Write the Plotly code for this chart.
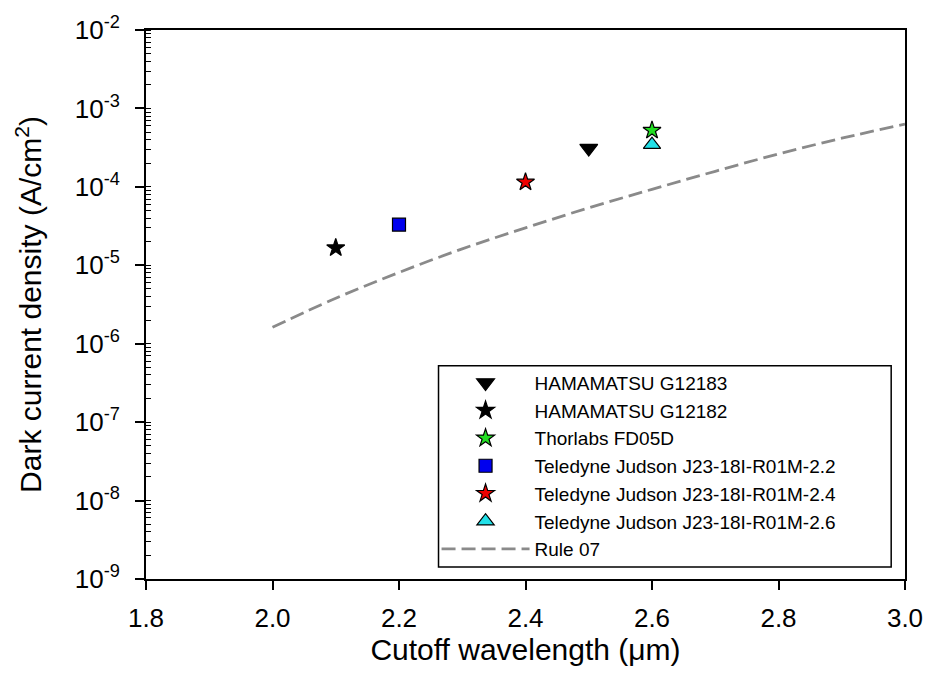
import plotly.graph_objects as go

# ---- data ----
hama183_x = [2.5]
hama183_y = [3.1e-4]
hama182_x = [2.1]
hama182_y = [1.67e-5]
thor_x = [2.6]
thor_y = [5.25e-4]
tj22_x = [2.2]
tj22_y = [3.3e-5]
tj24_x = [2.4]
tj24_y = [1.15e-4]
tj26_x = [2.6]
tj26_y = [3.45e-4]

rule07_x = [2.0, 2.1, 2.2, 2.3, 2.4, 2.5, 2.6, 2.7, 2.8, 2.9, 3.0]
rule07_y = [1.62e-6, 3.8e-6, 8.1e-6, 1.62e-5, 3.0e-5, 5.4e-5, 9.3e-5,
            1.58e-4, 2.63e-4, 4.17e-4, 6.3e-4]

x_tickvals = [1.8, 2.0, 2.2, 2.4, 2.6, 2.8, 3.0]
x_ticktext = ["1.8", "2.0", "2.2", "2.4", "2.6", "2.8", "3.0"]
y_tickvals = [1e-9, 1e-8, 1e-7, 1e-6, 1e-5, 1e-4, 1e-3, 1e-2]
y_ticktext = ["10<sup>-9</sup>", "10<sup>-8</sup>", "10<sup>-7</sup>", "10<sup>-6</sup>",
              "10<sup>-5</sup>", "10<sup>-4</sup>", "10<sup>-3</sup>", "10<sup>-2</sup>"]

FONT = "Arial, Liberation Sans, sans-serif"

fig = go.Figure()

def pts(x, y, name, symbol, fill, size):
    fig.add_trace(go.Scatter(
        x=x, y=y, mode="markers", name=name,
        marker=dict(symbol=symbol, color=fill, size=size,
                    line=dict(color="black", width=1.2)),
    ))

pts(hama183_x, hama183_y, "HAMAMATSU G12183", "triangle-down", "black", 15.5)
pts(hama182_x, hama182_y, "HAMAMATSU G12182", "star", "black", 13.5)
pts(thor_x, thor_y, "Thorlabs FD05D", "star", "#22dd22", 13.5)
pts(tj22_x, tj22_y, "Teledyne Judson J23-18I-R01M-2.2", "square", "#0000ee", 13)
pts(tj24_x, tj24_y, "Teledyne Judson J23-18I-R01M-2.4", "star", "#ee0000", 13.5)
pts(tj26_x, tj26_y, "Teledyne Judson J23-18I-R01M-2.6", "triangle-up", "#22e0e8", 15)

fig.add_trace(go.Scatter(
    x=rule07_x, y=rule07_y, mode="lines", name="Rule 07",
    line=dict(color="#8a8a8a", width=2.8, dash="14px,6px", shape="spline"),
))

# legend frame
fig.add_shape(type="rect", xref="paper", yref="paper",
              x0=0.3854, x1=0.9818, y0=0.0218, y1=0.3884,
              line=dict(color="black", width=1.5), fillcolor="white", layer="above")

fig.update_layout(
    width=935, height=691,
    margin=dict(l=146, r=21, t=28, b=112),
    paper_bgcolor="white", plot_bgcolor="white",
    font=dict(family=FONT, color="black"),
    showlegend=True,
    legend=dict(
        x=0.3828, y=0.392, xanchor="left", yanchor="top",
        bgcolor="rgba(0,0,0,0)", borderwidth=0,
        font=dict(family=FONT, size=19, color="black"),
        itemwidth=88,
    ),
    xaxis=dict(
        range=[1.8, 3.0], tickmode="array", tickvals=x_tickvals, ticktext=x_ticktext,
        ticks="outside", ticklen=9, tickwidth=1.5, tickcolor="black",
        showline=True, linecolor="black", linewidth=2, mirror=True,
        showgrid=False, zeroline=False,
        tickfont=dict(family=FONT, size=26),
        ticklabelstandoff=6,
        title=dict(text="Cutoff wavelength (\u03bcm)", font=dict(family=FONT, size=30), standoff=1),
    ),
    yaxis=dict(
        type="log", range=[-9, -2], tickmode="array", tickvals=y_tickvals, ticktext=y_ticktext,
        ticks="outside", ticklen=9, tickwidth=1.5, tickcolor="black",
        minor=dict(ticks="inside", ticklen=5, tickwidth=1, tickcolor="black", dtick="D1", showgrid=False),
        showline=True, linecolor="black", linewidth=2, mirror=True,
        showgrid=False, zeroline=False,
        tickfont=dict(family=FONT, size=26),
        ticklabelstandoff=10,
        title=dict(text="Dark current density (A/cm<sup>2</sup>)", font=dict(family=FONT, size=30), standoff=24),
    ),
)

fig.write_html("out.html")
